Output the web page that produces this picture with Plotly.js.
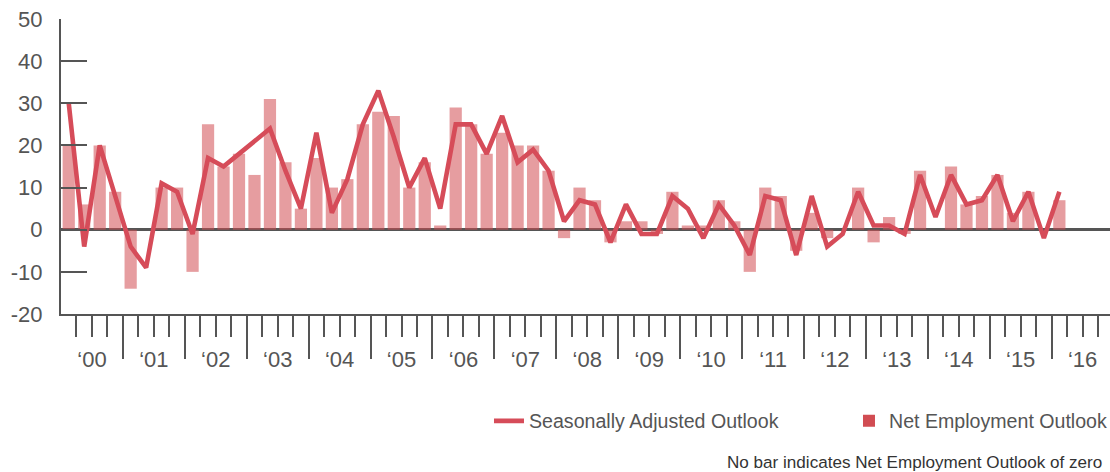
<!DOCTYPE html>
<html><head><meta charset="utf-8">
<script src="https://cdn.plot.ly/plotly-3.0.1.min.js"></script>
<style>html,body{margin:0;padding:0;overflow:hidden;background:#fff}</style>
</head><body><div id="chart" style="width:1110px;height:472px"></div>
<script>
// Quarterly data, starting 2000 Q1
const startYear = 2000;
const netOutlook = [
  20, 6, 20, 9,      // 2000
  -14, 0, 10, 10,    // 2001
  -10, 25, 15, 18,   // 2002
  13, 31, 16, 5,     // 2003
  17, 10, 12, 25,    // 2004
  28, 27, 10, 16,    // 2005
  1, 29, 25, 18,     // 2006
  23, 20, 20, 14,    // 2007
  -2, 10, 7, -3,     // 2008
  2, 2, -1, 9,       // 2009
  1, 1, 7, 2,        // 2010
  -10, 10, 8, -5,    // 2011
  4, -2, 0, 10,      // 2012
  -3, 3, -1, 14,     // 2013
  0, 15, 6, 8,       // 2014
  13, 4, 9, 0,       // 2015
  7                  // 2016
];
const seasonallyAdjusted = [
  30, -4, 20, 8,
  -4, -9, 11, 9,
  -1, 17, 15, 18,
  21, 24, 14, 5,
  23, 4, 12, 25,
  33, 22, 10, 17,
  5, 25, 25, 18,
  27, 16, 19, 14,
  2, 7, 6, -3,
  6, -1, -1, 8,
  5, -2, 6, 1,
  -6, 8, 7, -6,
  8, -4, -1, 9,
  1, 1, -1, 13,
  3, 13, 6, 7,
  13, 2, 9, -2,
  9
];
const yearLabels = ["‘00","‘01","‘02","‘03","‘04","‘05","‘06","‘07","‘08","‘09","‘10","‘11","‘12","‘13","‘14","‘15","‘16"];
const yTickValues = [-20, -10, 0, 10, 20, 30, 40, 50];
const yTickLabels = ["-20", "-10", "0", "10", "20", "30", "40", "50"];

const periods = netOutlook.map((_, i) => (startYear + Math.floor(i / 4)) + ' Q' + (i % 4 + 1));
const periodX = periods.map(p => { const parts = p.split(' Q'); return +parts[0] + (+parts[1] - 0.5) / 4; });

const years = yearLabels.map((_, i) => startYear + i);
const yearCenters = years.map(y => y + 0.5);
const majorTicks = years.filter(y => y > startYear);
const minorTicks = [];
years.forEach(y => { [0.25, 0.5, 0.75].forEach(f => minorTicks.push(y + f)); });

const RED = '#D64C59';
const BAR_BASE = '#D14C52';
const GREY = '#555555';
const FONT = 'Liberation Sans, Arial, Helvetica, sans-serif';
const xRange = [2000, 2016.943];

const traces = [
  {
    type: 'scatter', mode: 'lines', name: 'Seasonally Adjusted Outlook',
    x: periodX, y: seasonallyAdjusted,
    line: {color: RED, width: 4.6}, hoverinfo: 'x+y'
  },
  {
    type: 'bar', name: 'Net Employment Outlook',
    x: periodX, y: netOutlook,
    marker: {color: BAR_BASE, opacity: 0.55}
  },
  {
    type: 'scatter', mode: 'none', xaxis: 'x2', showlegend: false, hoverinfo: 'skip',
    x: yearCenters, y: yearCenters.map(() => null)
  }
];

const layout = {
  width: 1110, height: 472,
  margin: {l: 61.4, r: 0, t: 19.3, b: 158, autoexpand: false},
  paper_bgcolor: '#fff', plot_bgcolor: '#fff',
  barmode: 'overlay', bargap: 0.21,
  font: {family: FONT, color: GREY},
  showlegend: true,
  legend: {
    orientation: 'h', x: 0.408, xanchor: 'left', y: -0.363, yanchor: 'middle',
    font: {size: 19.6, color: GREY, family: FONT},
    entrywidth: 315, entrywidthmode: 'pixels',
    bgcolor: 'rgba(0,0,0,0)', traceorder: 'normal'
  },
  xaxis: {
    range: xRange, showgrid: false, zeroline: false,
    showline: true, linecolor: GREY, linewidth: 2,
    tickmode: 'array', tickvals: majorTicks, ticks: 'outside', ticklen: 43, tickwidth: 2, tickcolor: GREY,
    showticklabels: false,
    minor: {tickmode: 'array', tickvals: minorTicks, ticks: 'outside', ticklen: 21, tickwidth: 2, tickcolor: GREY, showgrid: false}
  },
  xaxis2: {
    overlaying: 'x', anchor: 'y', side: 'bottom', range: xRange,
    showgrid: false, zeroline: false, showline: false,
    tickmode: 'array', tickvals: yearCenters, ticktext: yearLabels, ticks: '',
    ticklabelstandoff: 30,
    tickfont: {size: 22, color: GREY, family: FONT}
  },
  yaxis: {
    range: [-20, 50], tickmode: 'array', tickvals: yTickValues, ticktext: yTickLabels,
    showgrid: false,
    showline: true, linecolor: GREY, linewidth: 2,
    zeroline: true, zerolinecolor: GREY, zerolinewidth: 2.5,
    ticks: 'inside', ticklen: 26, tickwidth: 2, tickcolor: GREY,
    ticklabelstandoff: 12,
    tickfont: {size: 22, color: GREY, family: FONT}
  },
  annotations: [{
    xref: 'paper', yref: 'paper', x: 0.6327, y: -0.502, xanchor: 'left', yanchor: 'middle',
    text: 'No bar indicates Net Employment Outlook of zero', showarrow: false,
    font: {size: 17.1, color: '#333333', family: FONT}
  }]
};

Plotly.newPlot('chart', traces, layout, {displayModeBar: false, responsive: false, staticPlot: true});
</script>
</body></html>
